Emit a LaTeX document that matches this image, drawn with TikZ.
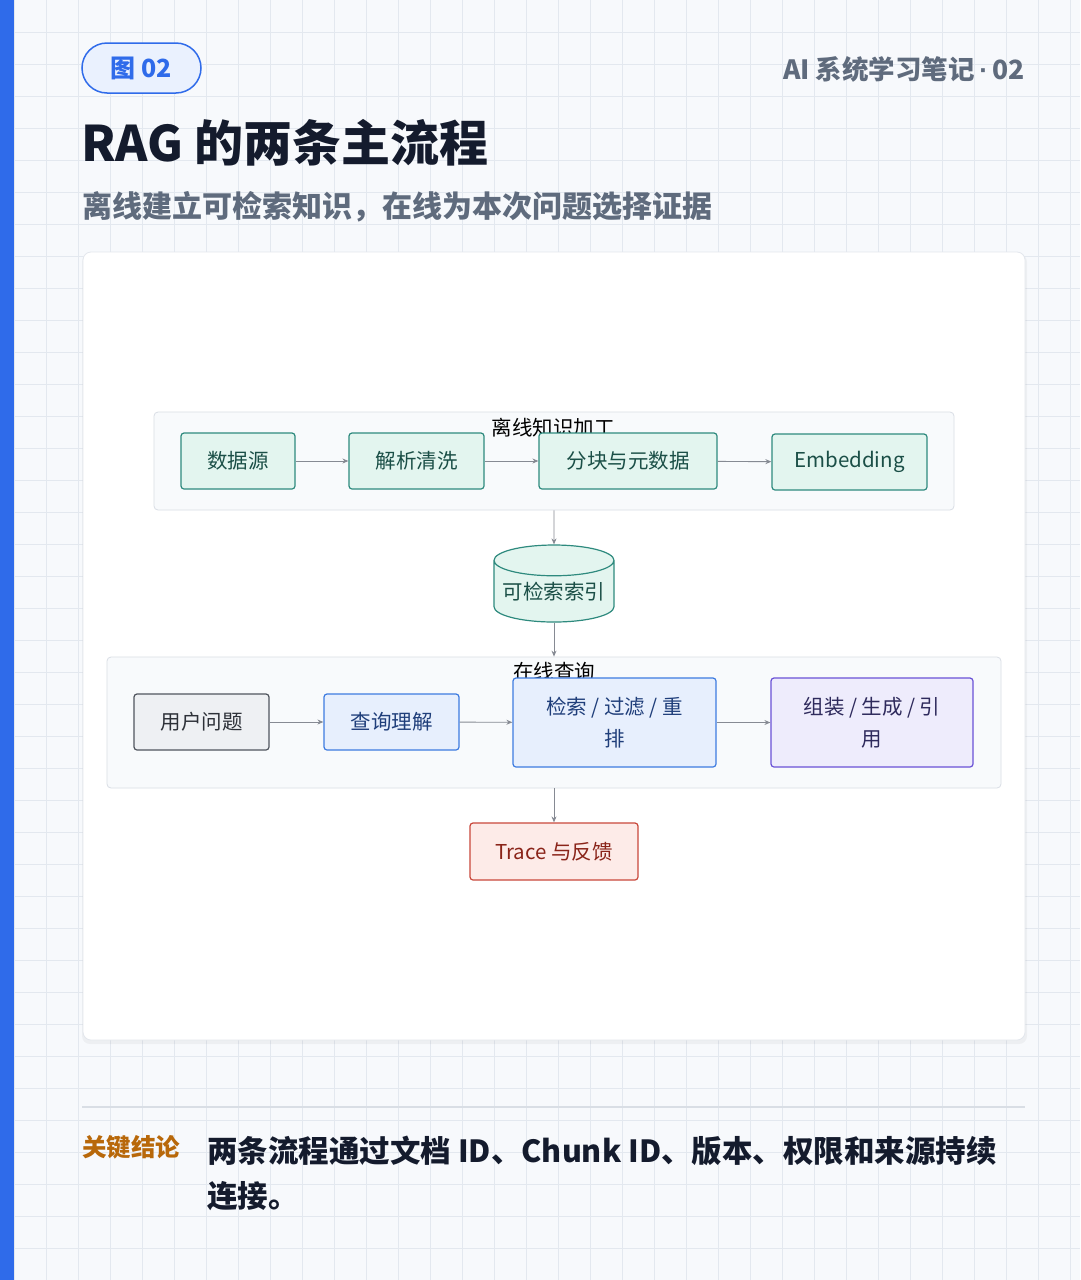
\documentclass[tikz,border=0pt]{standalone}
\usepackage{fontspec}
\setmainfont{Noto Sans CJK SC}
\newfontfamily\dotfont{Liberation Sans}
\usetikzlibrary{arrows.meta,shapes.geometric}

\definecolor{pagebg}{HTML}{F7F9FC}
\definecolor{gridln}{HTML}{E3E8EF}
\definecolor{barblue}{HTML}{2F6BEA}
\definecolor{badgefill}{HTML}{EAF1FE}
\definecolor{titleink}{HTML}{141B2D}
\definecolor{subink}{HTML}{5F6B7D}
\definecolor{cardline}{HTML}{E3E7ED}
\definecolor{groupfill}{HTML}{F8FAFC}
\definecolor{groupline}{HTML}{D9DEE5}
\definecolor{tealfill}{HTML}{E3F5EF}
\definecolor{tealline}{HTML}{2E8A7E}
\definecolor{tealink}{HTML}{1B4F47}
\definecolor{grayfill}{HTML}{EEF0F3}
\definecolor{grayline}{HTML}{50555E}
\definecolor{grayink}{HTML}{2D3138}
\definecolor{bluefill}{HTML}{E7EFFD}
\definecolor{blueline}{HTML}{3D7BE0}
\definecolor{blueink}{HTML}{1F3E7A}
\definecolor{purpfill}{HTML}{EEECFC}
\definecolor{purpline}{HTML}{6A52D6}
\definecolor{purpink}{HTML}{2E2A5C}
\definecolor{redfill}{HTML}{FDEBE8}
\definecolor{redline}{HTML}{C9483B}
\definecolor{redink}{HTML}{8A2419}
\definecolor{arrowgray}{HTML}{868A93}
\definecolor{keyorange}{HTML}{B8680A}

\tikzset{
    procbox/.style={draw, rounded corners=3pt, line width=1.2pt, inner sep=0pt,
        minimum height=56pt, align=center, font=\fontsize{20.5}{32}\selectfont},
    offbox/.style={procbox, fill=tealfill, draw=tealline, text=tealink},
    userbox/.style={procbox, fill=grayfill, draw=grayline, text=grayink},
    askbox/.style={procbox, fill=bluefill, draw=blueline, text=blueink},
    genbox/.style={procbox, fill=purpfill, draw=purpline, text=purpink},
    tracebox/.style={procbox, fill=redfill, draw=redline, text=redink},
    groupbox/.style={draw=groupline, fill=groupfill, rounded corners=4pt, line width=0.8pt},
    grouplabel/.style={inner sep=0pt, font=\fontsize{20.5}{24}\selectfont},
    flow/.style={draw=arrowgray, line width=0.9pt, -{Stealth[length=6pt,width=5pt]}},
}

\begin{document}
\begin{tikzpicture}[x=1pt,y=-1pt]
    \useasboundingbox (0,0) rectangle (1080,1280);

    % page and grid
    \fill[pagebg] (0,0) rectangle (1080,1280);
    \foreach \gx in {14,46,...,1080} \draw[gridln, line width=0.8pt] (\gx,0) -- (\gx,1280);
    \foreach \gy in {32,64,...,1280} \draw[gridln, line width=0.8pt] (0,\gy) -- (1080,\gy);
    \fill[barblue] (0,0) rectangle (14,1280);

    % header
    \node[draw=barblue, fill=badgefill, line width=1.5pt, rounded corners=25pt,
        minimum width=119pt, minimum height=50pt, inner sep=0pt, text=barblue,
        font=\fontsize{25}{30}\selectfont\bfseries] (badge) at (141.5,68) {图 02};
    \node[anchor=east, inner sep=0pt, text=subink, font=\fontsize{26.5}{30}\selectfont\bfseries]
        (series) at (1025,69) {AI 系统学习笔记\,{\dotfont\bfseries·}\,02};
    \node[anchor=west, inner sep=0pt, text=titleink, font=\fontsize{49}{56}\selectfont\bfseries]
        (title) at (81,143) {RAG 的两条主流程};
    \node[anchor=west, inner sep=0pt, text=subink, font=\fontsize{30}{34}\selectfont\bfseries]
        (subtitle) at (82,207) {离线建立可检索知识，在线为本次问题选择证据};

    % card
    \fill[black, opacity=0.04, rounded corners=8pt] (82,254) rectangle (1027,1044);
    \draw[cardline, fill=white, rounded corners=8pt, line width=0.8pt] (83,252) rectangle (1025,1040);

    % offline group
    \node[groupbox, minimum width=800pt, minimum height=98pt] (offline) at (554,461) {};
    \node[grouplabel] (offlabel) at (553,428) {离线知识加工};
    \node[offbox, minimum width=114pt] (source) at (238,461) {数据源};
    \node[offbox, minimum width=135pt] (parse) at (416.5,461) {解析清洗};
    \node[offbox, minimum width=178pt] (chunk) at (628,461) {分块与元数据};
    \node[offbox, minimum width=155pt] (embed) at (849.5,462) {Embedding};

    \draw[flow] (source) -- (parse);
    \draw[flow] (parse) -- (chunk);
    \draw[flow] (chunk) -- (embed);

    % index
    \node[cylinder, shape border rotate=90, draw=tealline, fill=tealfill, text=tealink,
        line width=1.2pt, minimum width=120pt, minimum height=77pt, aspect=0.3, inner sep=0pt,
        font=\fontsize{20.5}{24}\selectfont] (index) at (554,591.5) {\raisebox{-7pt}{可检索索引}};

    % online group
    \node[groupbox, minimum width=894pt, minimum height=131pt] (online) at (554,722.5) {};
    \node[grouplabel] (onlabel) at (554,672) {在线查询};
    \node[userbox, minimum width=135pt] (question) at (201.5,722) {用户问题};
    \node[askbox, minimum width=135pt] (rewrite) at (391.5,722) {查询理解};
    \node[askbox, minimum width=203pt, minimum height=89pt] (retrieve) at (614.5,722.5) {检索 / 过滤 / 重\\排};
    \node[genbox, minimum width=202pt, minimum height=89pt] (compose) at (872,722.5) {组装 / 生成 / 引\\用};

    \draw[flow] (question) -- (rewrite);
    \draw[flow] (rewrite) -- (retrieve);
    \draw[flow] (retrieve) -- (compose);

    \node[tracebox, minimum width=168pt, minimum height=57pt] (trace) at (554,851.5) {Trace 与反馈};

    \draw[flow] (offline.south) -- (index.north);
    \draw[flow] (index.south) -- (online.north);
    \draw[flow] (online.south) -- (trace.north);

    % takeaway
    \draw[groupline, line width=2pt] (82,1107) -- (1025,1107);
    \node[anchor=west, inner sep=0pt, text=keyorange, font=\fontsize{24.5}{28}\selectfont\bfseries]
        (keytag) at (82,1147) {关键结论};
    \node[anchor=west, inner sep=0pt, text=titleink, font=\fontsize{30.5}{34}\selectfont\bfseries]
        (keyline) at (207,1151) {两条流程通过文档 ID、Chunk ID、版本、权限和来源持续};
    \node[anchor=west, inner sep=0pt, text=titleink, font=\fontsize{30.5}{34}\selectfont\bfseries]
        (keyend) at (207,1196) {连接。};
\end{tikzpicture}
\end{document}
